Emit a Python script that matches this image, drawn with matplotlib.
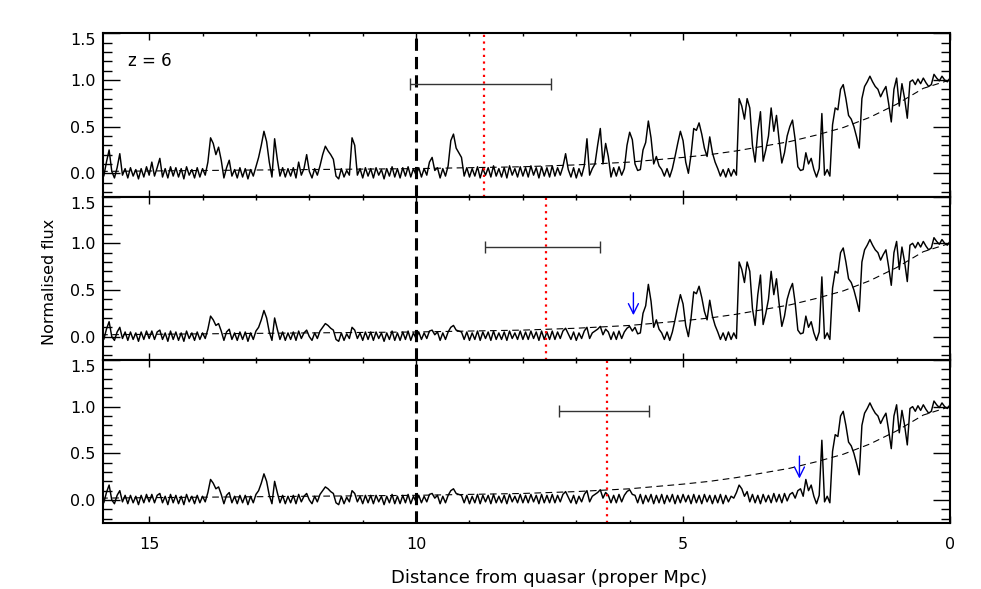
import numpy as np
import matplotlib.pyplot as plt
from matplotlib.ticker import MultipleLocator

# distance grids (proper Mpc), 0.05 Mpc steps
d_far = np.linspace(15.90, 5.95, 200)
d_mid = np.linspace(5.90, 2.80, 63)
d_near = np.linspace(2.75, 0.00, 56)

# top panel, far side (15.90 -> 5.95)
flux_far_1 = [
    0.05, -0.03, 0.12, 0.25, 0.02, -0.05, 0.06, 0.21, -0.02, 0.05,
    -0.05, 0.06, -0.03, 0.04, -0.06, 0.05, -0.04, 0.07, -0.02, 0.12,
    -0.03, 0.06, 0.16, -0.04, 0.05, -0.05, 0.07, -0.03, 0.06, -0.04,
    0.05, -0.06, 0.07, -0.02, 0.04, -0.05, 0.06, -0.04, 0.05, -0.02,
    0.12, 0.38, 0.32, 0.20, 0.28, 0.14, -0.05, 0.06, 0.14, -0.03,
    0.04, -0.05, 0.06, -0.04, 0.05, -0.06, 0.04, -0.03, 0.07, 0.17,
    0.30, 0.45, 0.34, 0.12, -0.04, 0.37, 0.15, -0.03, 0.06, -0.04,
    0.05, -0.03, 0.06, -0.05, 0.12, -0.02, 0.05, 0.20, 0.02, -0.05,
    0.05, -0.02, 0.08, 0.20, 0.29, 0.24, 0.20, 0.15, -0.03, -0.06,
    0.05, -0.04, 0.03, -0.02, 0.38, 0.30, -0.02, 0.05, -0.05, 0.06,
    -0.03, 0.05, -0.05, 0.06, -0.02, 0.04, -0.06, 0.05, -0.03, 0.07,
    -0.04, 0.05, -0.05, 0.06, -0.03, 0.07, -0.04, 0.05, -0.02, 0.06,
    -0.04, 0.05, -0.02, 0.12, 0.17, 0.03, 0.06, -0.05, 0.05, -0.03,
    0.08, 0.35, 0.42, 0.27, 0.22, 0.17, -0.03, 0.06, -0.04, 0.05,
    -0.03, 0.07, -0.05, 0.05, -0.02, 0.06, -0.04, 0.08, -0.03, 0.05,
    -0.04, 0.06, -0.05, 0.08, -0.02, 0.05, -0.04, 0.07, -0.03, 0.06,
    -0.04, 0.08, -0.02, 0.06, -0.05, 0.07, -0.03, 0.06, -0.04, 0.08,
    -0.03, 0.06, -0.02, 0.07, 0.21, 0.04, -0.04, 0.06, -0.05, 0.05,
    -0.03, 0.08, 0.37, -0.02, 0.05, 0.10, 0.30, 0.48, 0.10, 0.32,
    0.18, -0.04, 0.06, -0.03, 0.07, -0.02, 0.05, 0.30, 0.44, 0.36,
]

# lower panels, far side (15.90 -> 5.95)
flux_far_2 = [
    0.04, -0.03, 0.08, 0.16, 0.00, -0.04, 0.05, 0.10, -0.02, 0.05,
    -0.04, 0.05, -0.03, 0.04, -0.05, 0.05, -0.03, 0.06, -0.02, 0.06,
    -0.03, 0.05, 0.07, -0.03, 0.04, -0.05, 0.06, -0.03, 0.05, -0.04,
    0.04, -0.05, 0.06, -0.02, 0.04, -0.04, 0.05, -0.03, 0.04, -0.02,
    0.08, 0.22, 0.18, 0.12, 0.14, 0.06, -0.04, 0.05, 0.08, -0.03,
    0.04, -0.04, 0.05, -0.03, 0.05, -0.05, 0.04, -0.03, 0.06, 0.10,
    0.18, 0.28, 0.20, 0.05, -0.04, 0.20, 0.08, -0.03, 0.05, -0.04,
    0.04, -0.03, 0.05, -0.04, 0.06, -0.02, 0.04, 0.07, 0.00, -0.04,
    0.04, -0.02, 0.06, 0.10, 0.14, 0.12, 0.09, 0.07, -0.03, -0.05,
    0.04, -0.04, 0.03, -0.02, 0.10, 0.07, -0.02, 0.04, -0.04, 0.05,
    -0.03, 0.05, -0.04, 0.05, -0.02, 0.04, -0.05, 0.04, -0.03, 0.06,
    -0.04, 0.04, -0.04, 0.05, -0.03, 0.06, -0.04, 0.04, -0.02, 0.05,
    -0.03, 0.04, -0.02, 0.06, 0.07, 0.02, 0.05, -0.04, 0.04, -0.03,
    0.05, 0.10, 0.12, 0.07, 0.06, 0.05, -0.03, 0.05, -0.04, 0.04,
    -0.03, 0.06, -0.04, 0.05, -0.02, 0.05, -0.04, 0.06, -0.03, 0.04,
    -0.03, 0.05, -0.04, 0.06, -0.02, 0.04, -0.03, 0.06, -0.03, 0.05,
    -0.03, 0.06, -0.02, 0.05, -0.04, 0.06, -0.03, 0.05, -0.03, 0.06,
    -0.03, 0.05, -0.02, 0.06, 0.09, 0.03, -0.03, 0.05, -0.04, 0.04,
    -0.02, 0.06, 0.10, -0.02, 0.04, 0.06, 0.08, 0.11, 0.02, 0.08,
    0.05, -0.03, 0.05, -0.03, 0.06, -0.02, 0.05, 0.09, 0.11, 0.06,
]

# middle stretch (5.90 -> 2.80)
flux_mid_1 = [
    0.10, 0.03, 0.04, 0.25, 0.33, 0.56, 0.38, 0.10, 0.18, 0.08,
    0.04, -0.03, 0.05, -0.04, 0.05, 0.18, 0.32, 0.45, 0.35, 0.12,
    0.00, 0.20, 0.48, 0.46, 0.54, 0.42, 0.27, 0.18, 0.39, 0.22,
    0.12, 0.05, -0.03, 0.04, -0.04, 0.05, -0.03, 0.04, -0.02, 0.80,
    0.72, 0.58, 0.80, 0.70, 0.30, 0.12, 0.45, 0.66, 0.13, 0.25,
    0.40, 0.70, 0.45, 0.62, 0.35, 0.11, 0.22, 0.40, 0.50, 0.57,
    0.36, 0.07, 0.03,
]
flux_mid_3 = [
    0.05, -0.03, 0.06, -0.04, 0.05, -0.02, 0.06, -0.04, 0.05, -0.03,
    0.06, -0.04, 0.05, -0.02, 0.06, -0.04, 0.05, -0.03, 0.06, -0.02,
    0.05, -0.04, 0.06, -0.03, 0.05, -0.04, 0.06, -0.02, 0.05, -0.04,
    0.05, -0.03, 0.06, -0.04, 0.05, -0.02, 0.04, 0.02, 0.08, 0.16,
    0.12, 0.04, 0.09, -0.02, 0.06, -0.03, 0.05, -0.04, 0.06, -0.02,
    0.05, -0.03, 0.07, -0.02, 0.06, -0.03, 0.07, -0.01, 0.06, 0.08,
    0.02, 0.10, 0.12,
]

# near-zone (2.75 -> 0.00), same in all panels
flux_near = [
    0.04, 0.22, 0.10, 0.16, 0.04, -0.04, 0.05, 0.64, -0.02, 0.04,
    -0.03, 0.52, 0.70, 0.68, 0.90, 0.95, 0.80, 0.62, 0.58, 0.50,
    0.39, 0.27, 0.80, 0.93, 0.98, 1.04, 0.98, 0.93, 0.90, 0.82,
    0.88, 0.93, 0.75, 0.55, 0.90, 1.02, 0.72, 0.96, 0.80, 0.59,
    0.98, 1.00, 0.95, 1.01, 0.96, 1.02, 0.97, 0.93, 0.95, 1.06,
    1.02, 0.99, 1.04, 1.00, 0.98, 1.02,
]

# smooth model (dashed)
model_d = [15.9, 14, 12, 10, 8, 7, 6, 5, 4.5, 4, 3.5, 3, 2.5, 2, 1.5, 1, 0.5, 0]
model_f = [0.02, 0.03, 0.04, 0.05, 0.07, 0.09, 0.12, 0.17, 0.20, 0.24,
           0.29, 0.34, 0.41, 0.49, 0.60, 0.74, 0.91, 1.0]

centres = [8.72, 7.56, 6.43]
bar_lo = [7.48, 6.56, 5.64]
bar_hi = [10.12, 8.71, 7.32]
bar_y = 0.955
arrow_d = [None, 5.93, 2.82]

d_all = np.concatenate([d_far, d_mid, d_near])
spectra = [
    np.concatenate([flux_far_1, flux_mid_1, flux_near]),
    np.concatenate([flux_far_2, flux_mid_1, flux_near]),
    np.concatenate([flux_far_2, flux_mid_3, flux_near]),
]

fig, axes = plt.subplots(3, 1, figsize=(9.81, 5.89), dpi=100, sharex=True)
fig.subplots_adjust(left=0.1047, right=0.9684, top=0.9435, bottom=0.1115, hspace=0)

for i, ax in enumerate(axes):
    ax.plot(d_all, spectra[i], color='k', lw=1.05)
    ax.plot(model_d, model_f, color='k', lw=0.8, ls=(0, (6, 4)))
    ax.axvline(10, color='k', lw=2.2, ls=(0, (4, 2)))
    ax.axvline(centres[i], color='red', lw=1.6, ls=(0, (1, 2)))
    ax.errorbar(centres[i], bar_y,
                xerr=[[centres[i] - bar_lo[i]], [bar_hi[i] - centres[i]]],
                fmt='none', ecolor='#333333', elinewidth=1, capsize=4, capthick=1)
    if arrow_d[i] is not None:
        ax.annotate('', xy=(arrow_d[i], 0.2), xytext=(arrow_d[i], 0.5),
                    arrowprops=dict(arrowstyle='->', color='blue', lw=1,
                                    mutation_scale=18))

    ax.set_xlim(15.87, 0)
    ax.set_ylim(-0.25, 1.5)
    ax.set_yticks([0, 0.5, 1.0, 1.5])
    ax.set_yticklabels(['0.0', '0.5', '1.0', '1.5'])
    ax.get_yticklabels()[-1].set_va('top')
    ax.yaxis.set_minor_locator(MultipleLocator(0.1))
    ax.xaxis.set_major_locator(MultipleLocator(5))
    ax.xaxis.set_minor_locator(MultipleLocator(1))
    ax.tick_params(which='both', direction='in', top=True, right=True, width=1)
    ax.tick_params(axis='y', which='major', length=12, labelsize=11.5, pad=5)
    ax.tick_params(axis='y', which='minor', length=6.5)
    ax.tick_params(axis='x', which='major', length=5, labelsize=11.5, pad=10)
    ax.tick_params(axis='x', which='minor', length=2.5)
    for sp in ax.spines.values():
        sp.set_linewidth(1.5)

axes[0].text(15.4, 1.2, 'z = 6', fontsize=12, ha='left', va='center')
fig.text(50 / 981, 0.521, 'Normalised flux', rotation=90, fontsize=11.5,
         ha='center', va='center')
fig.text(549 / 981, 1 - 578 / 589, 'Distance from quasar (proper Mpc)',
         fontsize=13, ha='center', va='center')

fig.savefig('out.png', dpi=100)
